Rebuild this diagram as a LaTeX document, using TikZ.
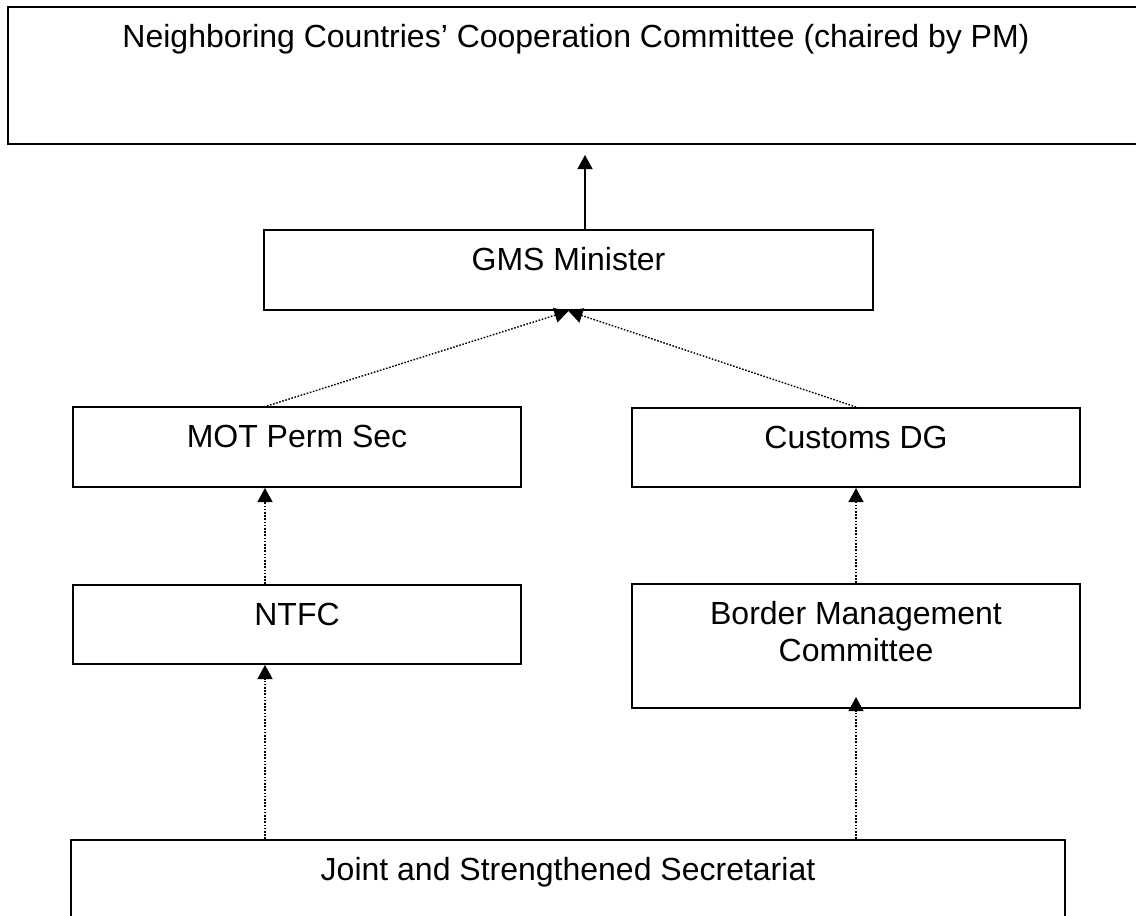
\documentclass[tikz,border=0pt]{standalone}
\usepackage{fontspec}
\setmainfont{Liberation Sans}
\usepackage{tikz}
\usetikzlibrary{arrows.meta}
\usetikzlibrary{positioning}
\usetikzlibrary{calc}

\begin{document}
\begin{tikzpicture}[x=0.5pt, y=-0.5pt,
	every node/.style={draw, line width=1pt, inner sep=0pt, anchor=north west, text height=20pt, font=\fontsize{16}{18.5}\selectfont},
	upline/.style={line width=0.7pt, -{Triangle[length=7pt, width=7.5pt]}},
	dotline/.style={line width=0.7pt, dash pattern=on 0.8pt off 0.8pt, -{Triangle[length=7pt, width=7.5pt]}}]
			
			\useasboundingbox (0,0) rectangle (1136,916);
			
			\node[minimum width=568pt, text depth=48.5pt] (ncc) at (7,6) {Neighboring Countries’ Cooperation Committee (chaired by PM)};
			\node[minimum width=304.5pt, text depth=20pt] (gms) at (263,229) {GMS Minister};
			\node[minimum width=224pt, text depth=20pt] (mot) at (72,406) {MOT Perm Sec};
			\node[minimum width=224pt, text depth=19.5pt] (cust) at (631,407) {Customs DG};
			\node[minimum width=224pt, text depth=19.5pt] (ntfc) at (72,584) {NTFC};
			\node[minimum width=224pt, text height=38.5pt, text depth=23.5pt, align=center] (bmc) at (631,583) {Border Management\\Committee};
			\node[minimum width=497pt, text depth=60pt] (jss) at (70,839) {Joint and Strengthened Secretariat};
			
			\coordinate (g1) at ([xshift=8.25pt]gms.north);
			\coordinate (lc) at ([xshift=-16pt]ntfc.north);
			
			%  up to the committee
			\draw[upline, shorten >=5pt] (g1) -- (g1 |- ncc.south);
			%  into gms
			\draw[dotline] ([xshift=-15pt]mot.north) -- (gms.south);
			\draw[dotline] (cust.north) -- (gms.south);
			%  left column
			\draw[dotline] (lc) -- (lc |- mot.south);
			\draw[dotline] (lc |- jss.north) -- (lc |- ntfc.south);
			%  right column
			\draw[dotline] (bmc.north) -- (cust.south);
			\draw[dotline] (bmc.south |- jss.north) -- ([yshift=6pt]bmc.south);
		\end{tikzpicture}
\end{document}
